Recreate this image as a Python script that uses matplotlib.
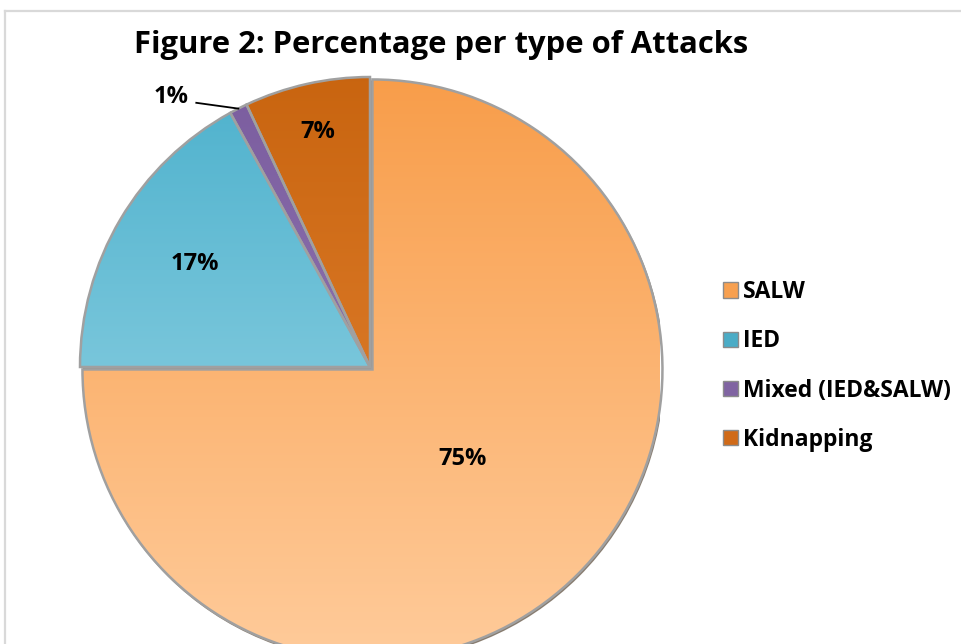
import numpy as np
import matplotlib
matplotlib.use('Agg')
import matplotlib.pyplot as plt
from matplotlib.colors import LinearSegmentedColormap
from matplotlib.patches import Patch, Circle
from matplotlib.lines import Line2D

plt.rcParams['font.family'] = ['Open Sans', 'DejaVu Sans']

# data
labels = ['SALW', 'IED', 'Mixed (IED&SALW)', 'Kidnapping']
shares = [75, 17, 1, 7]
pct_text = ['75%', '17%', '1%', '7%']

# gradient (top colour, bottom colour) per slice
top_cols = ['#F89C48', '#4BB0CC', '#7A5C9E', '#C8640F']
bot_cols = ['#FFCC9C', '#A6DCEA', '#9A82BC', '#E88838']
legend_cols = ['#F7A050', '#4BACC6', '#8064A2', '#D06A18']
label_r = [0.45, 0.70, None, 0.83]

W, H = 962, 644
fig = plt.figure(figsize=(W / 100, H / 100), dpi=100)

# light frame around the chart area (runs off right / bottom)
fig.add_artist(Line2D([4.5 / W, 1], [1 - 10.5 / H, 1 - 10.5 / H], color='#d9d9d9', lw=1.6))
fig.add_artist(Line2D([4.5 / W, 4.5 / W], [1 - 10.5 / H, 0], color='#d9d9d9', lw=1.6))

cx, cy, R = 370, 367, 290
ax = fig.add_axes([(cx - R) / W, (H - cy - R) / H, 2 * R / W, 2 * R / H])
ax.axis('off')

# soft shadow under the pie
ax.add_patch(Circle((0.012, -0.014), 1.0, color='#7d7062', alpha=0.85, zorder=0))

explode = [0.012, 0, 0, 0]
wedges, _ = ax.pie(shares, startangle=90, counterclock=False, radius=1.0,
                   explode=explode,
                   wedgeprops=dict(edgecolor='#a0a0a0', linewidth=1.8))
ax.set_xlim(-1.0, 1.0)
ax.set_ylim(-1.0, 1.0)
ax.set_aspect('equal')

grad = np.linspace(0, 1, 256).reshape(-1, 1)
for w, c0, c1 in zip(wedges, top_cols, bot_cols):
    w.set_facecolor('none')
    w.set_zorder(3)
    cmap = LinearSegmentedColormap.from_list('g', [c0, c1])
    im = ax.imshow(grad, cmap=cmap, extent=[-1.05, 1.05, -1.05, 1.05],
                   aspect='auto', origin='upper', zorder=2)
    im.set_clip_path(w)

# percentage labels
for w, txt, r in zip(wedges, pct_text, label_r):
    mid = np.deg2rad((w.theta1 + w.theta2) / 2)
    if r is None:
        # small slice: outside label with leader line
        x0, y0 = np.cos(mid) * 1.0, np.sin(mid) * 1.0
        x1, y1 = x0 - 0.145, y0 + 0.02
        ax.plot([x0, x1], [y0, y1], color='black', lw=1.3, zorder=5, clip_on=False)
        ax.text(x1 - 0.025, y1 + 0.02, txt, ha='right', va='center',
                fontsize=17, fontweight='bold', zorder=5)
    else:
        ax.text(np.cos(mid) * r, np.sin(mid) * r, txt, ha='center', va='center',
                fontsize=17, fontweight='bold', zorder=5)

fig.text(441 / W, 1 - 45 / H, 'Figure 2: Percentage per type of Attacks',
         ha='center', va='center', fontsize=22.3, fontweight='bold')

handles = [Patch(facecolor=c, edgecolor='#8c8c8c', linewidth=1.0) for c in legend_cols]
fig.legend(handles, labels, loc='center left', bbox_to_anchor=(712 / W, 1 - 366 / H),
           frameon=False, prop=dict(size=16.5, weight='bold'),
           handlelength=0.65, handleheight=0.65, handletextpad=0.2,
           labelspacing=1.1, borderpad=0)

fig.savefig('out.png', dpi=100)
